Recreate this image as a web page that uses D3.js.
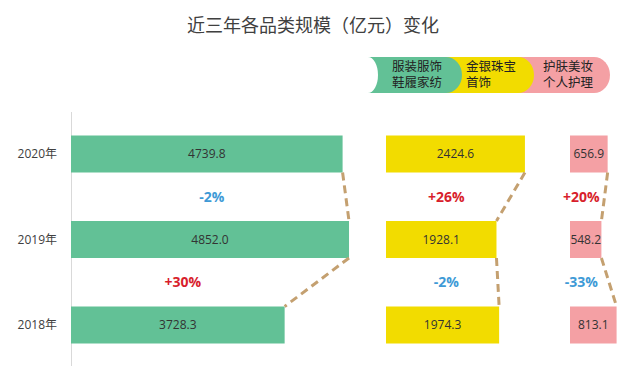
<!DOCTYPE html>
<html>
<head>
<meta charset="utf-8">
<script src="https://cdn.jsdelivr.net/npm/d3@7"></script>
<style>
  body { margin: 0; background: #fff; }
  svg { display: block; font-family: "Open Sans", "Noto Sans CJK SC", sans-serif; }
</style>
</head>
<body>
<svg id="chart"></svg>
<script>
// chart data
var title = "近三年各品类规模（亿元）变化";
var years = ["2020年", "2019年", "2018年"];
var categories = [["服装服饰", "鞋履家纺"], ["金银珠宝", "首饰"], ["护肤美妆", "个人护理"]];
var apparel = [4739.8, 4852.0, 3728.3];
var jewelry = [2424.6, 1928.1, 1974.3];
var beauty = [656.9, 548.2, 813.1];
var apparelChange = ["-2%", "+30%"];
var jewelryChange = ["+26%", "-2%"];
var beautyChange = ["+20%", "-33%"];

var width = 640, height = 366;
var colors = ["#62c196", "#f2dc00", "#f4a0a4"];
var panelX = [71, 386, 570];
var barH = 37;

var svg = d3.select("#chart")
  .attr("width", width)
  .attr("height", height);

svg.append("text")
  .attr("x", 313)
  .attr("y", 32)
  .attr("text-anchor", "middle")
  .attr("font-family", "Noto Sans CJK SC")
  .attr("font-size", 18)
  .attr("fill", "#404040")
  .text(title);

// legend: chevron-like tags, drawn back to front
var legend = svg.append("g").attr("class", "legend");
var tagTop = 57, tagH = 36, tagR = 16;
var tagX = [[368, 446], [440, 518], [514, 594]];
[2, 1, 0].forEach(function(i) {
  var x0 = tagX[i][0], x1 = tagX[i][1];
  var p = "M" + x0 + "," + tagTop + " L" + x1 + "," + tagTop +
    " A" + tagR + "," + (tagH / 2) + " 0 0 1 " + x1 + "," + (tagTop + tagH) +
    " L" + x0 + "," + (tagTop + tagH);
  if (i == 0) {
    p += " A" + 10 + "," + (tagH / 2) + " 0 0 0 " + x0 + "," + tagTop + " Z";
  } else {
    p += " Z";
  }
  legend.append("path").attr("d", p).attr("fill", colors[i]);
});
var tagTextX = [392, 466, 543];
categories.forEach(function(lines, i) {
  lines.forEach(function(t, j) {
    legend.append("text")
      .attr("x", tagTextX[i])
      .attr("y", 71 + j * 16)
      .attr("font-family", "Liberation Sans, Noto Sans CJK SC")
      .attr("font-size", 12.5)
      .attr("fill", "#222")
      .text(t);
  });
});

var x = d3.scaleLinear().domain([0, 5000]).range([0, 286.5]);
var y = d3.scalePoint().domain(years).range([154, 325]);

// axis line
svg.append("line")
  .attr("x1", panelX[0] + 0.5).attr("x2", panelX[0] + 0.5)
  .attr("y1", 112).attr("y2", height)
  .attr("stroke", "#d9d9d9");

var yAxis = d3.axisLeft(y).tickSize(0).tickPadding(14);
svg.append("g")
  .attr("class", "yAxis")
  .attr("transform", "translate(" + panelX[0] + ",0)")
  .call(yAxis)
  .call(function(g) { g.select(".domain").remove(); })
  .selectAll("text")
  .attr("font-family", "Open Sans, Noto Sans CJK SC")
  .attr("font-size", 12)
  .attr("fill", "#404040");

var series = [apparel, jewelry, beauty];
var changes = [apparelChange, jewelryChange, beautyChange];

series.forEach(function(vals, k) {
  var g = svg.append("g").attr("transform", "translate(" + panelX[k] + ",0)");

  g.selectAll("rect")
    .data(vals)
    .enter()
    .append("rect")
    .attr("x", 0)
    .attr("y", function(d, i) { return y(years[i]) - barH / 2; })
    .attr("width", function(d) { return x(d); })
    .attr("height", barH)
    .attr("fill", colors[k]);

  g.selectAll("text.val")
    .data(vals)
    .enter()
    .append("text")
    .attr("class", "val")
    .attr("x", function(d) { return x(d) / 2; })
    .attr("y", function(d, i) { return y(years[i]) + 4; })
    .attr("text-anchor", "middle")
    .attr("font-size", 12)
    .attr("fill", "#333")
    .text(function(d) { return d3.format(".1f")(d); });

  // dashed connectors between bar ends
  for (var i = 0; i < vals.length - 1; i++) {
    g.append("line")
      .attr("x1", x(vals[i])).attr("y1", y(years[i]) + barH / 2)
      .attr("x2", x(vals[i + 1])).attr("y2", y(years[i + 1]) - barH / 2)
      .attr("stroke", "#c4a070")
      .attr("stroke-width", 3)
      .attr("stroke-dasharray", "8,5");

    // change label, kept left of the connector
    var c = changes[k][i];
    var cx = Math.min(x(Math.min(vals[i], vals[i + 1])) / 2 + 5, x(Math.min(vals[i], vals[i + 1])) - 20);
    g.append("text")
      .attr("x", cx)
      .attr("y", (y(years[i]) + y(years[i + 1])) / 2 + 5)
      .attr("text-anchor", "middle")
      .attr("font-size", 14)
      .attr("font-weight", "bold")
      .attr("fill", c.charAt(0) == "+" ? "#d81e2c" : "#3e9ad6")
      .text(c);
  }
});
</script>
</body>
</html>
